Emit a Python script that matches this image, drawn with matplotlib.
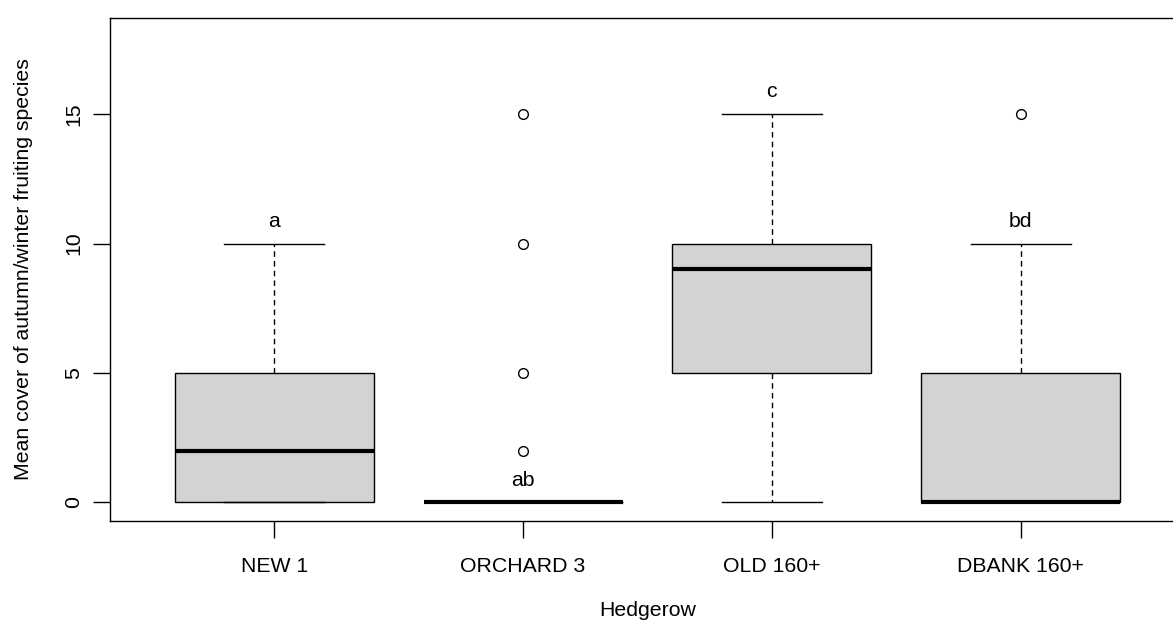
import numpy as np
import matplotlib
matplotlib.use('Agg')
import matplotlib.pyplot as plt

plt.rcParams['font.family'] = ['Liberation Sans', 'DejaVu Sans']

# Box summaries
groups = ['NEW 1', 'ORCHARD 3', 'OLD 160+', 'DBANK 160+']
whislo = [0, 0, 0, 0]
q1 = [0, 0, 5, 0]
med = [2, 0, 9, 0]
q3 = [5, 0, 10, 5]
whishi = [10, 0, 15, 10]
fliers = [[], [2, 5, 10, 15], [], [15]]
letters = ['a', 'ab', 'c', 'bd']
letter_y = [10.65, 0.65, 15.65, 10.65]

stats = []
for i in range(len(groups)):
    stats.append({'whislo': whislo[i], 'q1': q1[i], 'med': med[i], 'q3': q3[i],
                  'whishi': whishi[i], 'fliers': fliers[i], 'label': groups[i]})

W, H = 1173, 621
fig = plt.figure(figsize=(W / 100, H / 100), dpi=100)
ax = fig.add_axes([110 / W, 1 - 521 / H, (1185 - 110) / W, (521 - 18) / H])

pos = np.arange(1, len(groups) + 1)
ax.bxp(stats, positions=pos, widths=0.8, capwidths=0.4, patch_artist=True,
       boxprops=dict(facecolor='#D3D3D3', edgecolor='black', linewidth=1),
       medianprops=dict(color='black', linewidth=3, solid_capstyle='butt'),
       whiskerprops=dict(color='black', linewidth=1, linestyle=(0, (4, 3))),
       capprops=dict(color='black', linewidth=1),
       flierprops=dict(marker='o', markerfacecolor='none', markeredgecolor='black',
                       markersize=7, markeredgewidth=1))

for p, lab, y in zip(pos, letters, letter_y):
    ax.text(p, y, lab, ha='center', va='baseline', fontsize=15.3)

ax.set_xlim(0.34, 4.66)
ax.set_ylim(-0.72, 18.72)
ax.set_yticks([0, 5, 10, 15])
ax.set_yticklabels(['0', '5', '10', '15'], rotation=90, va='center')
ax.set_xticks(pos)
ax.set_xticklabels(groups)
ax.tick_params(labelsize=15.3, length=12, width=1, pad=7)
ax.tick_params(axis='x', pad=14)
for s in ax.spines.values():
    s.set_linewidth(1)

ax.set_xlabel('Hedgerow', fontsize=15.3, labelpad=18)
ax.set_ylabel('Mean cover of autumn/winter fruiting species', fontsize=15.3, labelpad=23)

fig.savefig('out.png', dpi=100)
